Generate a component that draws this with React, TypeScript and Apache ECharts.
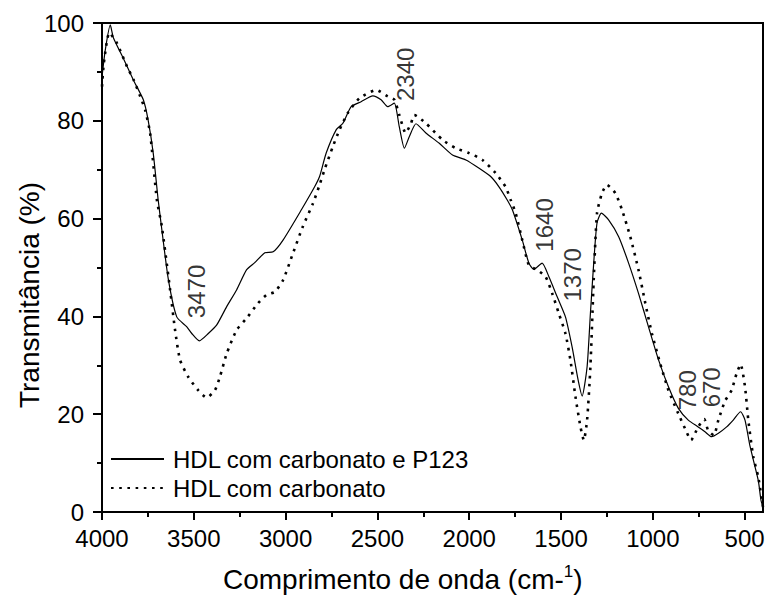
import React, { useEffect, useRef } from "react";
import * as echarts from "echarts";

// Wavenumbers (cm-1) and transmittance (%) — HDL com carbonato e P123 (solid)
const waveSolid = [4000, 3982, 3955, 3938, 3884, 3830, 3775, 3749, 3721, 3694, 3674, 3638, 3593, 3539, 3511, 3470, 3421, 3376, 3321, 3267, 3213, 3168, 3113, 3068, 3014, 2914, 2842, 2815, 2779, 2724, 2688, 2643, 2589, 2525, 2480, 2444, 2408, 2381, 2353, 2326, 2290, 2236, 2163, 2091, 2018, 1946, 1883, 1838, 1793, 1765, 1711, 1675, 1648, 1603, 1566, 1521, 1476, 1440, 1407, 1385, 1358, 1340, 1322, 1304, 1280, 1240, 1186, 1132, 1078, 1024, 969, 915, 861, 807, 753, 716, 680, 643, 598, 562, 522, 498, 471, 426, 411, 400];
const transSolid = [89, 94.5, 99.6, 97, 92.8, 88.4, 84.3, 80.2, 73.4, 63.8, 57.7, 47.4, 39.9, 37.9, 36.5, 35.0, 36.5, 38.2, 42.0, 45.4, 49.5, 51.0, 53.0, 53.2, 55.6, 61.8, 66.5, 68.6, 73.4, 78.2, 79.5, 82.9, 83.9, 85.1, 84.3, 82.9, 83.6, 78.8, 74.4, 76.8, 79.4, 77.5, 75.4, 73.0, 72.0, 70.3, 68.6, 66.5, 63.8, 61.8, 55.6, 50.9, 49.6, 50.9, 48.1, 44.0, 39.9, 33.8, 27.0, 23.7, 29.7, 40.6, 50.9, 59.1, 61.1, 59.7, 56.3, 50.9, 44.7, 37.9, 31.1, 25.6, 21.2, 18.8, 17.4, 16.4, 15.4, 16.1, 17.4, 18.8, 20.5, 18.8, 13.5, 6.5, 2.4, 1];

// HDL com carbonato (dotted)
const waveDotted = [4000, 3990, 3960, 3919, 3864, 3828, 3792, 3765, 3738, 3701, 3674, 3629, 3602, 3575, 3530, 3476, 3430, 3385, 3358, 3321, 3267, 3213, 3150, 3104, 3059, 3014, 2960, 2906, 2851, 2815, 2788, 2743, 2706, 2661, 2598, 2507, 2444, 2408, 2381, 2346, 2317, 2299, 2236, 2145, 2073, 2001, 1928, 1856, 1802, 1774, 1747, 1711, 1675, 1630, 1584, 1548, 1512, 1476, 1449, 1421, 1394, 1376, 1358, 1340, 1322, 1304, 1277, 1250, 1204, 1168, 1123, 1078, 1041, 1005, 960, 915, 861, 825, 792, 753, 720, 699, 668, 643, 607, 571, 544, 522, 498, 480, 453, 426, 400];
const transDotted = [87, 91.8, 98, 95.9, 91.1, 88.4, 85.0, 82.2, 77.5, 63.8, 58.4, 45.4, 37.2, 31.1, 27.6, 24.9, 23.4, 24.9, 27.6, 32.4, 37.2, 39.6, 42.7, 44.4, 45.0, 47.4, 52.9, 58.4, 63.1, 66.9, 70.0, 74.7, 78.2, 81.6, 84.6, 86.3, 85.0, 84.3, 81.2, 77.5, 79.5, 81.2, 79.5, 76.1, 74.4, 73.4, 72.0, 69.3, 66.5, 63.8, 61.1, 55.6, 50.5, 49.5, 48.1, 44.7, 40.6, 36.5, 31.1, 23.5, 17.4, 14.7, 18.8, 29.7, 47.4, 61.1, 65.2, 66.9, 65.2, 61.8, 56.3, 49.5, 42.7, 36.5, 30.4, 24.9, 20.1, 17.1, 14.7, 17.4, 19.0, 16.7, 15.7, 18.8, 22.7, 24.9, 28.3, 30.2, 25.6, 18.8, 11.3, 7.2, 1];

// Peak annotations
const annotationText = ["3470", "2340", "1640", "1370", "780", "670"];
const annotationWave = [3488, 2348, 1591, 1436, 812, 679];
const annotationY = [45.1, 89.5, 58.7, 48.5, 24.9, 25.5];

// Axis ticks
const xMajorTicks = [4000, 3500, 3000, 2500, 2000, 1500, 1000, 500];
const xMinorTicks = [3750, 3250, 2750, 2250, 1750, 1250, 750];

const seriesNames = ["HDL com carbonato e P123", "HDL com carbonato"];

const FONT = '"Liberation Sans", Arial, Helvetica, sans-serif';

export default function App() {
  const ref = useRef<HTMLDivElement>(null);

  useEffect(() => {
    if (!ref.current) return;
    const chart = echarts.init(ref.current, undefined, { renderer: "svg" });

    const solidData = waveSolid.map((w, i) => [w, transSolid[i]]);
    const dottedData = waveDotted.map((w, i) => [w, transDotted[i]]);
    const annData = annotationText.map((t, i) => ({
      value: [annotationWave[i], annotationY[i]],
      name: t,
    }));

    const option: any = {
      animation: false,
      backgroundColor: "#fff",
      textStyle: { fontFamily: FONT },
      grid: {
        left: 102,
        right: 5,
        top: 23,
        bottom: 89,
        show: true,
        borderColor: "#000",
        borderWidth: 2,
        backgroundColor: "transparent",
      },
      legend: {
        data: seriesNames,
        orient: "vertical",
        left: 110,
        top: 447,
        itemWidth: 53,
        itemHeight: 14,
        itemGap: 5,
        padding: 0,
        selectedMode: false,
        itemStyle: { opacity: 0 },
        textStyle: { fontSize: 24, color: "#000", fontFamily: FONT, padding: [0, 0, 0, 4] },
      },
      xAxis: [
        {
          type: "value",
          min: 400,
          max: 4000,
          inverse: true,
          position: "bottom",
          axisLine: { show: true, onZero: false, lineStyle: { color: "#000", width: 2 } },
          axisTick: { show: true, customValues: xMajorTicks, length: 8, lineStyle: { color: "#000", width: 2 } },
          axisLabel: {
            show: true,
            customValues: xMajorTicks,
            fontSize: 24,
            color: "#000",
            margin: 14,
            fontFamily: FONT,
            formatter: (v: number) => String(v),
          },
          splitLine: { show: false },
        },
        {
          type: "value",
          min: 400,
          max: 4000,
          inverse: true,
          position: "bottom",
          axisLine: { show: false },
          axisTick: { show: true, customValues: xMinorTicks, length: 5, lineStyle: { color: "#000", width: 2 } },
          axisLabel: { show: false },
          splitLine: { show: false },
        },
      ],
      yAxis: {
        type: "value",
        min: 0,
        max: 100,
        interval: 20,
        axisLine: { show: true, lineStyle: { color: "#000", width: 2 } },
        axisTick: { show: true, length: 9, lineStyle: { color: "#000", width: 2 } },
        minorTick: { show: true, splitNumber: 2, length: 5, lineStyle: { color: "#000", width: 2 } },
        axisLabel: { fontSize: 24, color: "#000", margin: 18, fontFamily: FONT },
        splitLine: { show: false },
      },
      graphic: [
        {
          type: "text",
          left: 223,
          top: 563,
          style: {
            text: "{a|Comprimento de onda (cm-}{s|1}{a|)}",
            fill: "#000",
            rich: {
              a: { fontSize: 28, fontFamily: FONT, fill: "#000", verticalAlign: "bottom", height: 32 },
              s: { fontSize: 17, fontFamily: FONT, fill: "#000", verticalAlign: "top" },
            },
          },
        },
        {
          type: "text",
          x: 29,
          y: 295,
          rotation: Math.PI / 2,
          style: {
            text: "Transmitância (%)",
            fontSize: 28,
            fontFamily: FONT,
            fill: "#000",
            align: "center",
            verticalAlign: "middle",
          },
        },
      ],
      series: [
        {
          name: seriesNames[0],
          type: "line",
          xAxisIndex: 0,
          data: solidData,
          showSymbol: false,
          symbol: "none",
          smooth: 0.2,
          lineStyle: { color: "#000", width: 1.2, type: "solid" },
          itemStyle: { color: "#000" },
          z: 3,
        },
        {
          name: seriesNames[1],
          type: "line",
          xAxisIndex: 0,
          data: dottedData,
          showSymbol: false,
          symbol: "none",
          smooth: 0.2,
          lineStyle: { color: "#000", width: 2.6, type: [2.6, 5.6], cap: "butt" },
          itemStyle: { color: "#000" },
          z: 2,
        },
        {
          name: "annotations",
          type: "scatter",
          xAxisIndex: 0,
          data: annData,
          symbol: "circle",
          symbolSize: 0,
          silent: true,
          itemStyle: { color: "#000" },
          label: {
            show: true,
            position: "inside",
            rotate: 90,
            formatter: (p: any) => p.name,
            fontSize: 24,
            color: "#000",
            textBorderWidth: 0,
            fontFamily: FONT,
          },
          z: 4,
        },
      ],
    };

    chart.setOption(option);
    return () => chart.dispose();
  }, []);

  return (
    <div
      ref={ref}
      style={{ position: "fixed", left: 0, top: 0, width: 768, height: 601, background: "#fff" }}
    />
  );
}
